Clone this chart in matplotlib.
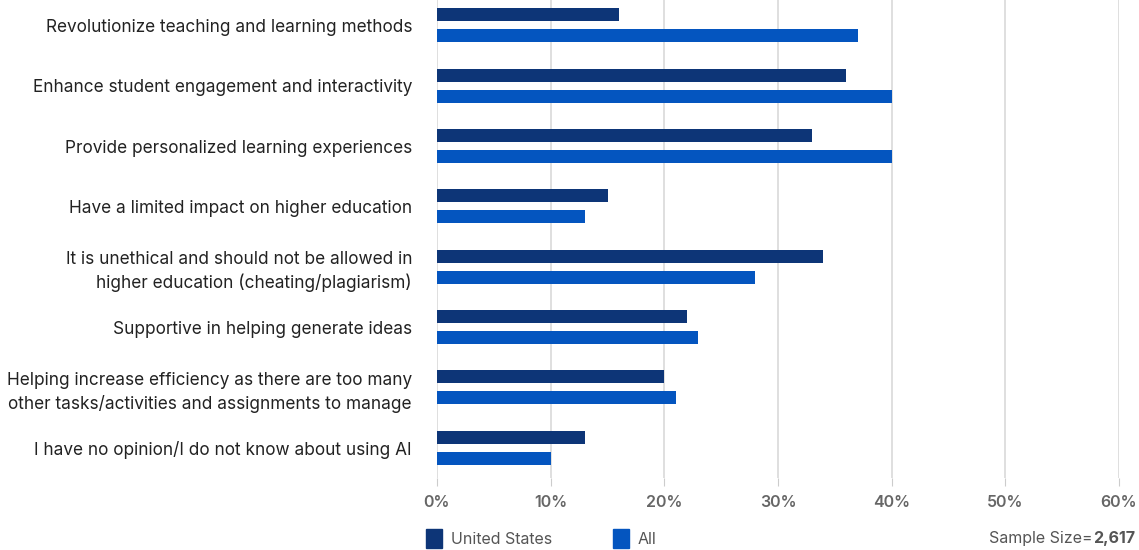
import numpy as np
import matplotlib.pyplot as plt
from matplotlib.patches import Rectangle

categories = [
    "Revolutionize teaching and learning methods",
    "Enhance student engagement and interactivity",
    "Provide personalized learning experiences",
    "Have a limited impact on higher education",
    "It is unethical and should not be allowed in\nhigher education (cheating/plagiarism)",
    "Supportive in helping generate ideas",
    "Helping increase efficiency as there are too many\nother tasks/activities and assignments to manage",
    "I have no opinion/I do not know about using AI",
]
us_values = [16, 36, 33, 15, 34, 22, 20, 13]
all_values = [37, 40, 40, 13, 28, 23, 21, 10]
series_names = ["United States", "All"]
xticks = [0, 10, 20, 30, 40, 50, 60]

US_COLOR = "#0d3577"
ALL_COLOR = "#0455bf"

plt.rcParams['font.family'] = ['Inter', 'DejaVu Sans']

fig = plt.figure(figsize=(11.39, 5.5), dpi=100)
ax = fig.add_axes([437 / 1139, 1 - 478 / 550, 682 / 1139, 478 / 550])

y = np.arange(len(categories))
h = 0.215
ax.barh(y - 0.174, us_values, height=h, color=US_COLOR, zorder=3)
ax.barh(y + 0.174, all_values, height=h, color=ALL_COLOR, zorder=3)

ax.set_xlim(0, 60)
ax.set_ylim(7.5, -0.42)
ax.set_xticks(xticks)
ax.set_xticklabels([f"{t}%" for t in xticks], color="#666666", fontsize=11.5,
                   fontweight="semibold")
ax.set_yticks(y)
ax.set_yticklabels(categories, fontsize=12.4, color="#222222", linespacing=1.4)
ax.tick_params(axis='y', length=0, pad=18)
ax.tick_params(axis='x', length=6, color="#cccccc", pad=6)
ax.grid(axis='x', color="#d9d9d9", linewidth=1.2, zorder=0)
for s in ax.spines.values():
    s.set_visible(False)

# legend
for x0, name, c in [(426, series_names[0], US_COLOR), (613, series_names[1], ALL_COLOR)]:
    fig.patches.append(Rectangle((x0 / 1139, 1 - 548 / 550), 16 / 1139, 19 / 550,
                                 transform=fig.transFigure, color=c))
    fig.text((x0 + 25) / 1139, 1 - 539 / 550, name, fontsize=11.5, color="#555555",
             va="center", ha="left")

t = fig.text(1135 / 1139, 1 - 539 / 550, "2,617", fontsize=11.5, fontweight="bold",
             color="#555555", va="center", ha="right")
fig.canvas.draw()
bb = t.get_window_extent()
fig.text(bb.x0 / fig.bbox.width, 1 - 539 / 550, "Sample Size=", fontsize=11.5,
         color="#555555", va="center", ha="right")

fig.savefig("out.png", dpi=100)
